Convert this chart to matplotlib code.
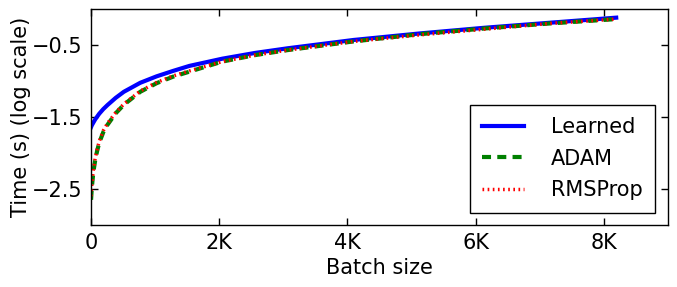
import numpy as np
import matplotlib
matplotlib.use("Agg")
import matplotlib.pyplot as plt

# batch sizes and log10 time
batch_sizes = [1, 8, 16, 32, 48, 64, 96, 128, 192, 256, 384, 512, 768, 1024, 1280, 1536,
               2048, 2560, 3072, 4096, 5120, 6144, 7168, 8192]
learned = [-1.64, -1.625, -1.61, -1.585, -1.56, -1.535, -1.495, -1.455, -1.39, -1.335, -1.235, -1.15,
           -1.025, -0.935, -0.86, -0.79, -0.69, -0.61, -0.545, -0.43, -0.34, -0.26, -0.19, -0.12]
adam = [-2.65, -2.55, -2.45, -2.31, -2.20, -2.11, -1.97, -1.86, -1.71, -1.61, -1.45, -1.33,
        -1.15, -1.03, -0.94, -0.87, -0.73, -0.64, -0.57, -0.45, -0.35, -0.27, -0.20, -0.14]
rmsprop = [-2.60, -2.50, -2.41, -2.27, -2.17, -2.08, -1.95, -1.84, -1.69, -1.59, -1.44, -1.32,
           -1.14, -1.02, -0.93, -0.86, -0.73, -0.64, -0.57, -0.45, -0.36, -0.28, -0.20, -0.14]

xticks = [0, 2000, 4000, 6000, 8000]
xticklabels = ["0", "2K", "4K", "6K", "8K"]
yticks = [-0.5, -1.5, -2.5]

plt.rcParams["font.family"] = "DejaVu Sans"
plt.rcParams["font.size"] = 15
plt.rcParams["lines.scale_dashes"] = False

fig = plt.figure(figsize=(6.77, 2.87), dpi=100)
ax = fig.add_axes([0.1344, 0.216, 0.8523, 0.7526])

ax.plot(batch_sizes, learned, "-", color="blue", lw=3, label="Learned")
ax.plot(batch_sizes, adam, color="green", lw=3, dashes=(6.5, 4.5), label="ADAM")
ax.plot(batch_sizes, rmsprop, color="red", lw=2.5, dashes=(1.2, 2.5), label="RMSProp")

ax.set_xlim(0, 9000)
ax.set_ylim(-3, 0)
ax.set_xticks(xticks)
ax.set_xticklabels(xticklabels)
ax.set_yticks(yticks)
ax.tick_params(direction="in", top=True, right=True, length=5, width=1, pad=6)
for s in ax.spines.values():
    s.set_linewidth(1)

ax.set_xlabel("Batch size", labelpad=3)
ax.set_ylabel("Time (s) (log scale)", labelpad=1)

leg = ax.legend(loc="lower right", fancybox=False, framealpha=1, edgecolor="black",
                handlelength=2.0, handletextpad=1.3, labelspacing=0.55, borderaxespad=0.6,
                borderpad=0.6)
leg.get_frame().set_linewidth(1)

fig.savefig("out.png", dpi=100)
